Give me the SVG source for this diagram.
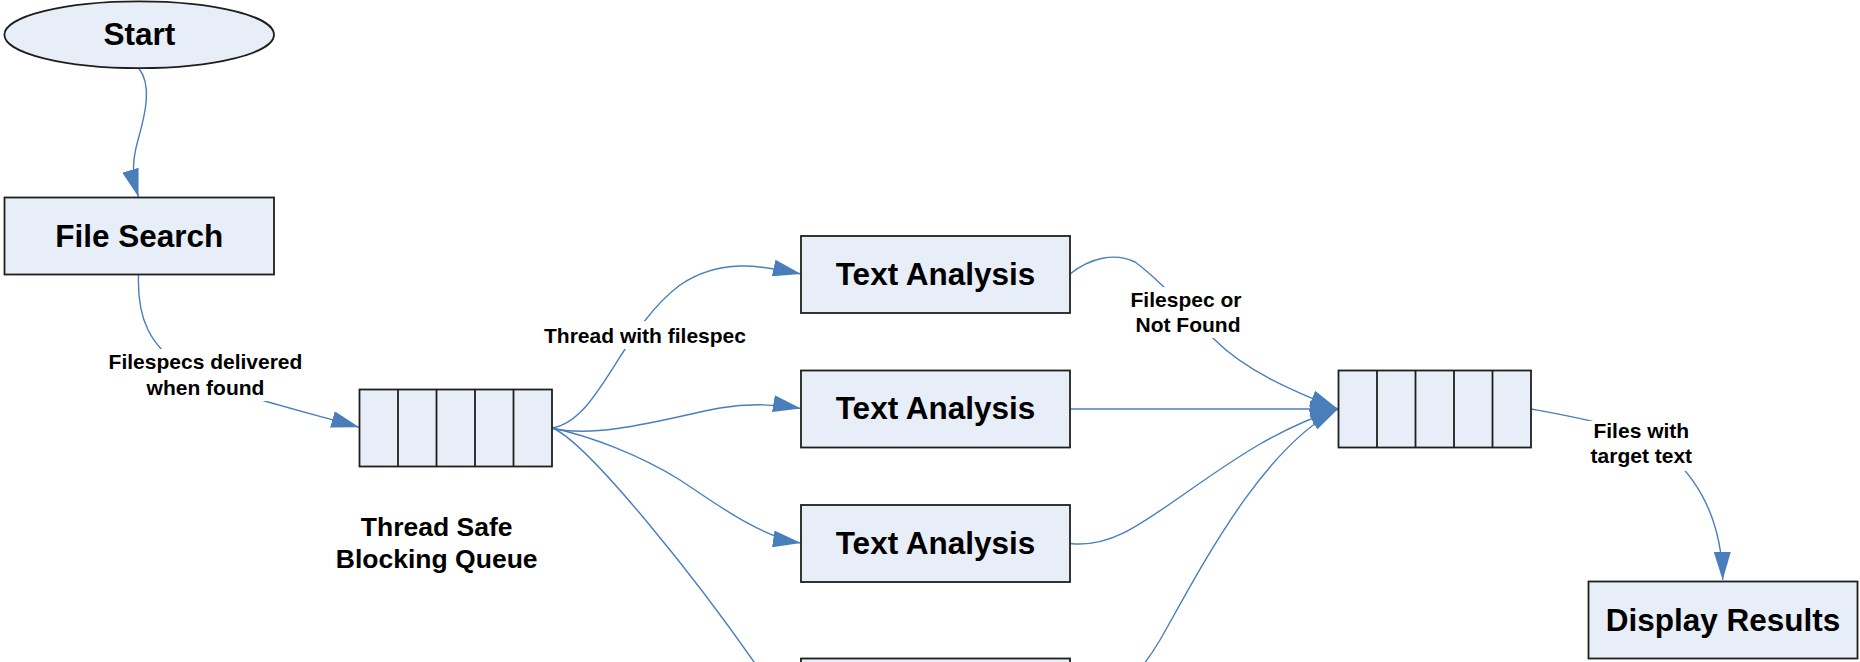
<svg xmlns="http://www.w3.org/2000/svg" width="1860" height="662" viewBox="0 0 1860 662">
  <defs>
    <marker id="arrow" markerUnits="userSpaceOnUse" markerWidth="28" markerHeight="17" viewBox="0 0 28 17" refX="28" refY="8.5" orient="auto">
      <path d="M0,0 L28,8.5 L0,17 Z" fill="#4A7EBB"/>
    </marker>
  </defs>
  <style>
    .box { fill: #E8EEF7; stroke: #1E1E1E; stroke-width: 1.8; }
    .div { stroke: #1E1E1E; stroke-width: 1.8; }
    .node { font-family: "Liberation Sans", Arial, sans-serif; font-weight: bold; font-size: 31.5px; fill: #000; text-anchor: middle; }
    .qlabel { font-family: "Liberation Sans", Arial, sans-serif; font-weight: bold; font-size: 26.5px; fill: #000; text-anchor: middle; }
    .lbl { font-family: "Liberation Sans", Arial, sans-serif; font-weight: bold; font-size: 21px; fill: #000; text-anchor: middle; }
    .conn { fill: none; stroke: #4A7EBB; stroke-width: 1.4; }
    .lblbg { fill: #FFFFFF; }
  </style>
  <rect x="0" y="0" width="1860" height="662" fill="#FFFFFF"/>

  <g id="connectors">
    <path class="conn" d="M138.5,68 C152,84 146,112 138,140 C133,158 131,172 138.5,197" marker-end="url(#arrow)"/>
    <path class="conn" d="M138.5,275 C137,320 150,345 185,370 C220,392 300,410 359.3,427.3" marker-end="url(#arrow)"/>
    <path class="conn" d="M552,428 C600,420 620,330 680,285 C720,258 760,265 801,274" marker-end="url(#arrow)"/>
    <path class="conn" d="M552,428 C600,440 680,415 720,408 C750,403 775,404 801,408.5" marker-end="url(#arrow)"/>
    <path class="conn" d="M552,428 C590,436 640,455 680,480 C715,503 760,537 801,543" marker-end="url(#arrow)"/>
    <path class="conn" d="M552,428 C585,440 700,580 780,700"/>
    <path class="conn" d="M1070,274 C1090,258 1115,252 1135,262 C1160,280 1185,310 1215,340 C1245,370 1290,390 1338,409" marker-end="url(#arrow)"/>
    <path class="conn" d="M1070,409 L1338,409" marker-end="url(#arrow)"/>
    <path class="conn" d="M1070,543.5 C1110,548 1140,525 1190,490 C1240,455 1280,428 1338,409" marker-end="url(#arrow)"/>
    <path class="conn" d="M1070,697 C1110,700 1130,690 1160,640 C1200,570 1260,450 1338,409" marker-end="url(#arrow)"/>
    <path class="conn" d="M1531,409 C1580,418 1640,428 1670,455 C1705,487 1722,530 1722.7,580" marker-end="url(#arrow)"/>
  </g>

  <g id="label-filespecs">
    <rect class="lblbg" x="104" y="349" width="204" height="52"/>
    <text class="lbl" x="205.5" y="369.3">Filespecs delivered</text>
    <text class="lbl" x="205.5" y="395">when found</text>
  </g>
  <g id="label-thread">
    <rect class="lblbg" x="543" y="321" width="206" height="28"/>
    <text class="lbl" x="645" y="342.7">Thread with filespec</text>
  </g>
  <g id="label-notfound">
    <rect class="lblbg" x="1127" y="287" width="120" height="51"/>
    <text class="lbl" x="1186" y="307.3">Filespec or</text>
    <text class="lbl" x="1188" y="331.7">Not Found</text>
  </g>
  <g id="label-files">
    <rect class="lblbg" x="1588" y="421" width="107" height="50"/>
    <text class="lbl" x="1641.3" y="438.3">Files with</text>
    <text class="lbl" x="1641.3" y="463.3">target text</text>
  </g>

  <g id="start">
    <ellipse class="box" cx="139.2" cy="34.7" rx="134.8" ry="33.4"/>
    <text class="node" x="139.3" y="45">Start</text>
  </g>

  <g id="file-search">
    <rect class="box" x="4.5" y="197.5" width="269.5" height="77"/>
    <text class="node" x="139.3" y="246.7">File Search</text>
  </g>

  <g id="queue-in">
    <rect class="box" x="359.5" y="389.5" width="192.5" height="77"/>
    <line class="div" x1="398" y1="389.5" x2="398" y2="466.5"/>
    <line class="div" x1="436.5" y1="389.5" x2="436.5" y2="466.5"/>
    <line class="div" x1="475" y1="389.5" x2="475" y2="466.5"/>
    <line class="div" x1="513.5" y1="389.5" x2="513.5" y2="466.5"/>
    <text class="qlabel" x="436.7" y="535.7">Thread Safe</text>
    <text class="qlabel" x="436.7" y="567.5">Blocking Queue</text>
  </g>

  <g id="text-analysis-1">
    <rect class="box" x="801" y="236" width="269" height="77"/>
    <text class="node" x="935.5" y="284.5">Text Analysis</text>
  </g>
  <g id="text-analysis-2">
    <rect class="box" x="801" y="370.5" width="269" height="77"/>
    <text class="node" x="935.5" y="419">Text Analysis</text>
  </g>
  <g id="text-analysis-3">
    <rect class="box" x="801" y="505" width="269" height="77"/>
    <text class="node" x="935.5" y="553.5">Text Analysis</text>
  </g>
  <g id="text-analysis-4">
    <rect class="box" x="801" y="658.5" width="269" height="77"/>
  </g>

  <g id="queue-out">
    <rect class="box" x="1338.5" y="370.5" width="192.5" height="77"/>
    <line class="div" x1="1377" y1="370.5" x2="1377" y2="447.5"/>
    <line class="div" x1="1415.5" y1="370.5" x2="1415.5" y2="447.5"/>
    <line class="div" x1="1454" y1="370.5" x2="1454" y2="447.5"/>
    <line class="div" x1="1492.5" y1="370.5" x2="1492.5" y2="447.5"/>
  </g>

  <g id="display-results">
    <rect class="box" x="1588.5" y="581.5" width="269" height="77"/>
    <text class="node" x="1723" y="630.7">Display Results</text>
  </g>
</svg>
